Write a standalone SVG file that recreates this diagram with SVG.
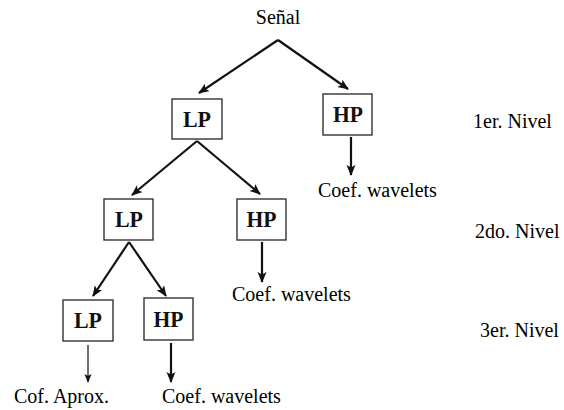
<svg xmlns="http://www.w3.org/2000/svg" width="564" height="410" viewBox="0 0 564 410">
<style>
.t{font-family:"Liberation Serif","Times New Roman",serif;font-size:20px;fill:#000}
.b{font-family:"Liberation Serif","Times New Roman",serif;font-size:23px;font-weight:bold;fill:#111;text-anchor:middle}
.box{fill:#fff;stroke:#333;stroke-width:1.4}
.c{stroke:#111;stroke-width:2.2;fill:none;marker-end:url(#ah)}
.c2{stroke:#111;stroke-width:1.2;fill:none;marker-end:url(#ah2)}
</style>
<defs>
<marker id="ah" markerUnits="userSpaceOnUse" markerWidth="12" markerHeight="10" refX="10" refY="4.5" orient="auto">
<path d="M0,0 L11,4.5 L0,9 L2.5,4.5 z" fill="#111"/>
</marker>
<marker id="ah2" markerUnits="userSpaceOnUse" markerWidth="10" markerHeight="8" refX="8" refY="3.5" orient="auto">
<path d="M0,0 L9,3.5 L0,7 L2,3.5 z" fill="#111"/>
</marker>
</defs>
<rect width="564" height="410" fill="#fff"/>
<g id="connectors">
<path class="c" d="M278,40 L199,93"/>
<path class="c" d="M278,40 L348,89"/>
<path class="c" d="M197,141 L132,195"/>
<path class="c" d="M197,141 L260,194"/>
<path class="c" d="M129,242 L93,296"/>
<path class="c" d="M129,242 L166,296"/>
<path class="c" d="M351,137 L351,175"/>
<path class="c" d="M262,242 L262,282"/>
<path class="c2" d="M88,345 L88,382"/>
<path class="c" d="M171,343 L171,382"/>
</g>
<g id="senal"><text class="t" x="278" y="24" text-anchor="middle">Señal</text></g>
<g id="lp1"><rect class="box" x="172" y="99" width="50" height="40"/><text class="b" x="197" y="127" textLength="28" lengthAdjust="spacingAndGlyphs">LP</text></g>
<g id="hp1"><rect class="box" x="323" y="94" width="49" height="41"/><text class="b" x="348" y="122" textLength="30" lengthAdjust="spacingAndGlyphs">HP</text></g>
<g id="lp2"><rect class="box" x="104" y="199" width="49" height="41"/><text class="b" x="129" y="227" textLength="28" lengthAdjust="spacingAndGlyphs">LP</text></g>
<g id="hp2"><rect class="box" x="237" y="199" width="49" height="41"/><text class="b" x="261.5" y="227" textLength="30" lengthAdjust="spacingAndGlyphs">HP</text></g>
<g id="lp3"><rect class="box" x="63" y="300" width="50" height="41"/><text class="b" x="88" y="328" textLength="28" lengthAdjust="spacingAndGlyphs">LP</text></g>
<g id="hp3"><rect class="box" x="144" y="298" width="49" height="42"/><text class="b" x="168.5" y="326.5" textLength="30" lengthAdjust="spacingAndGlyphs">HP</text></g>
<g id="out1"><text class="t" x="318" y="197">Coef. wavelets</text></g>
<g id="out2"><text class="t" x="232" y="301">Coef. wavelets</text></g>
<g id="out3"><text class="t" x="14" y="403">Cof. Aprox.</text></g>
<g id="out4"><text class="t" x="162" y="403">Coef. wavelets</text></g>
<g id="levels">
<text class="t" x="473" y="128">1er. Nivel</text>
<text class="t" x="475" y="238">2do. Nivel</text>
<text class="t" x="480" y="337">3er. Nivel</text>
</g>
</svg>
